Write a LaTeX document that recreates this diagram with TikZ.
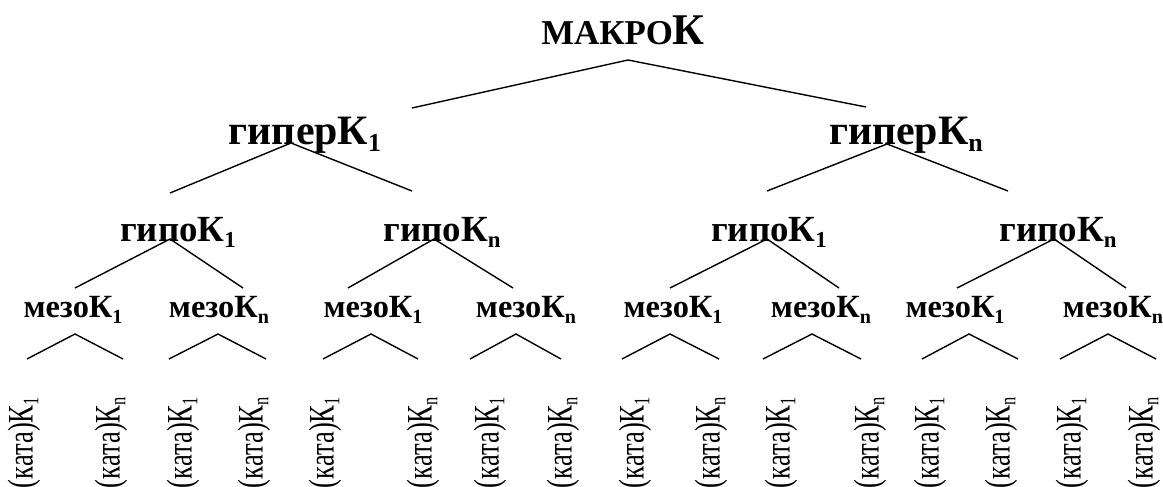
\documentclass[tikz,border=0pt]{standalone}
\usepackage{graphicx}
\usepackage{fontspec}
\setmainfont{Liberation Serif}
% lowered, reduced index after a letter
\newcommand\lowidx[1]{\raisebox{-0.16em}{\scalebox{0.62}{#1}}}
\tikzset{
  lvltop/.style={inner sep=0, anchor=base},
  lvlhyper/.style={font=\fontsize{42}{46}\selectfont\bfseries, inner sep=0, anchor=base},
  lvlhypo/.style={font=\fontsize{37}{42}\selectfont\bfseries, inner sep=0, anchor=base},
  lvlmeso/.style={font=\fontsize{32.5}{36}\selectfont\bfseries, inner sep=0, anchor=base},
  leaf/.style={font=\fontsize{36}{40}\selectfont, inner sep=0, rotate=90, anchor=east},
  branch/.style={line width=1.4bp, line join=miter},
}
\begin{document}
\begin{tikzpicture}[x=1bp,y=-1bp]
\useasboundingbox (0,0) rectangle (1163,487);

% ---- text of the hierarchy ----
\node[lvltop] (macro) at (623,45)
  {\bfseries{\fontsize{35}{40}\selectfont МАКРО}{\fontsize{44}{48}\selectfont К}};

\node[lvlhyper] (hyper1) at (305,145) {гиперК\lowidx{1}};
\node[lvlhyper] (hyperN) at (906,145) {гиперК\lowidx{n}};

\node[lvlhypo] (hypo1) at (178,242) {гипоК\lowidx{1}};
\node[lvlhypo] (hypo2) at (442,242) {гипоК\lowidx{n}};
\node[lvlhypo] (hypo3) at (769,242) {гипоК\lowidx{1}};
\node[lvlhypo] (hypo4) at (1058,242) {гипоК\lowidx{n}};

\foreach \cx/\i/\s in {73/1/1, 219/2/n, 373/3/1, 526/4/n, 673/5/1, 821/6/n, 955/7/1, 1113/8/n}
  \node[lvlmeso] (meso\i) at (\cx,318) {мезоК\lowidx{\s}};

\foreach \cx/\i/\s in {24/1/1, 111/2/n, 183/3/1, 254/4/n, 325/5/1, 423/6/n, 490/7/1, 563/8/n,
                       635/9/1, 711/10/n, 781/11/1, 870/12/n, 930/13/1, 1001/14/n, 1072/15/1, 1144/16/n}
  \node[leaf] (kata\i) at (\cx,397) {\scalebox{0.74}[1]{(ката)К\lowidx{\s}}};

% ---- branch points ----
\coordinate (macro-a) at (628,60);
\coordinate (macro-l) at (412,108);
\coordinate (macro-r) at (866,107);

\coordinate (hyper1-a) at (291,143);
\coordinate (hyper1-l) at (170,193);
\coordinate (hyper1-r) at (412,191);
\coordinate (hyperN-a) at (887,144);
\coordinate (hyperN-l) at (767,191);
\coordinate (hyperN-r) at (1008,191);

\foreach \i/\l/\a/\r in {1/75/170/243, 2/348/434/513, 3/670/767/839, 4/957/1054/1126} {
  \coordinate (hypo\i-l) at (\l,288);
  \coordinate (hypo\i-a) at (\a,239);
  \coordinate (hypo\i-r) at (\r,288);
}

\foreach \i/\l/\a/\r in {1/27/75/123, 2/169/218/266, 3/323/371/418, 4/470/516/561,
                         5/622/670/719, 6/763/812/861, 7/922/969/1018, 8/1060/1108/1156} {
  \coordinate (meso\i-l) at (\l,359);
  \coordinate (meso\i-a) at (\a,334);
  \coordinate (meso\i-r) at (\r,359);
}

% ---- branches ----
\draw[branch] (macro-l) -- (macro-a) -- (macro-r);
\draw[branch] (hyper1-l) -- (hyper1-a) -- (hyper1-r);
\draw[branch] (hyperN-l) -- (hyperN-a) -- (hyperN-r);
\foreach \i in {1,...,4}
  \draw[branch] (hypo\i-l) -- (hypo\i-a) -- (hypo\i-r);
\foreach \i in {1,...,8}
  \draw[branch] (meso\i-l) -- (meso\i-a) -- (meso\i-r);
\end{tikzpicture}
\end{document}
